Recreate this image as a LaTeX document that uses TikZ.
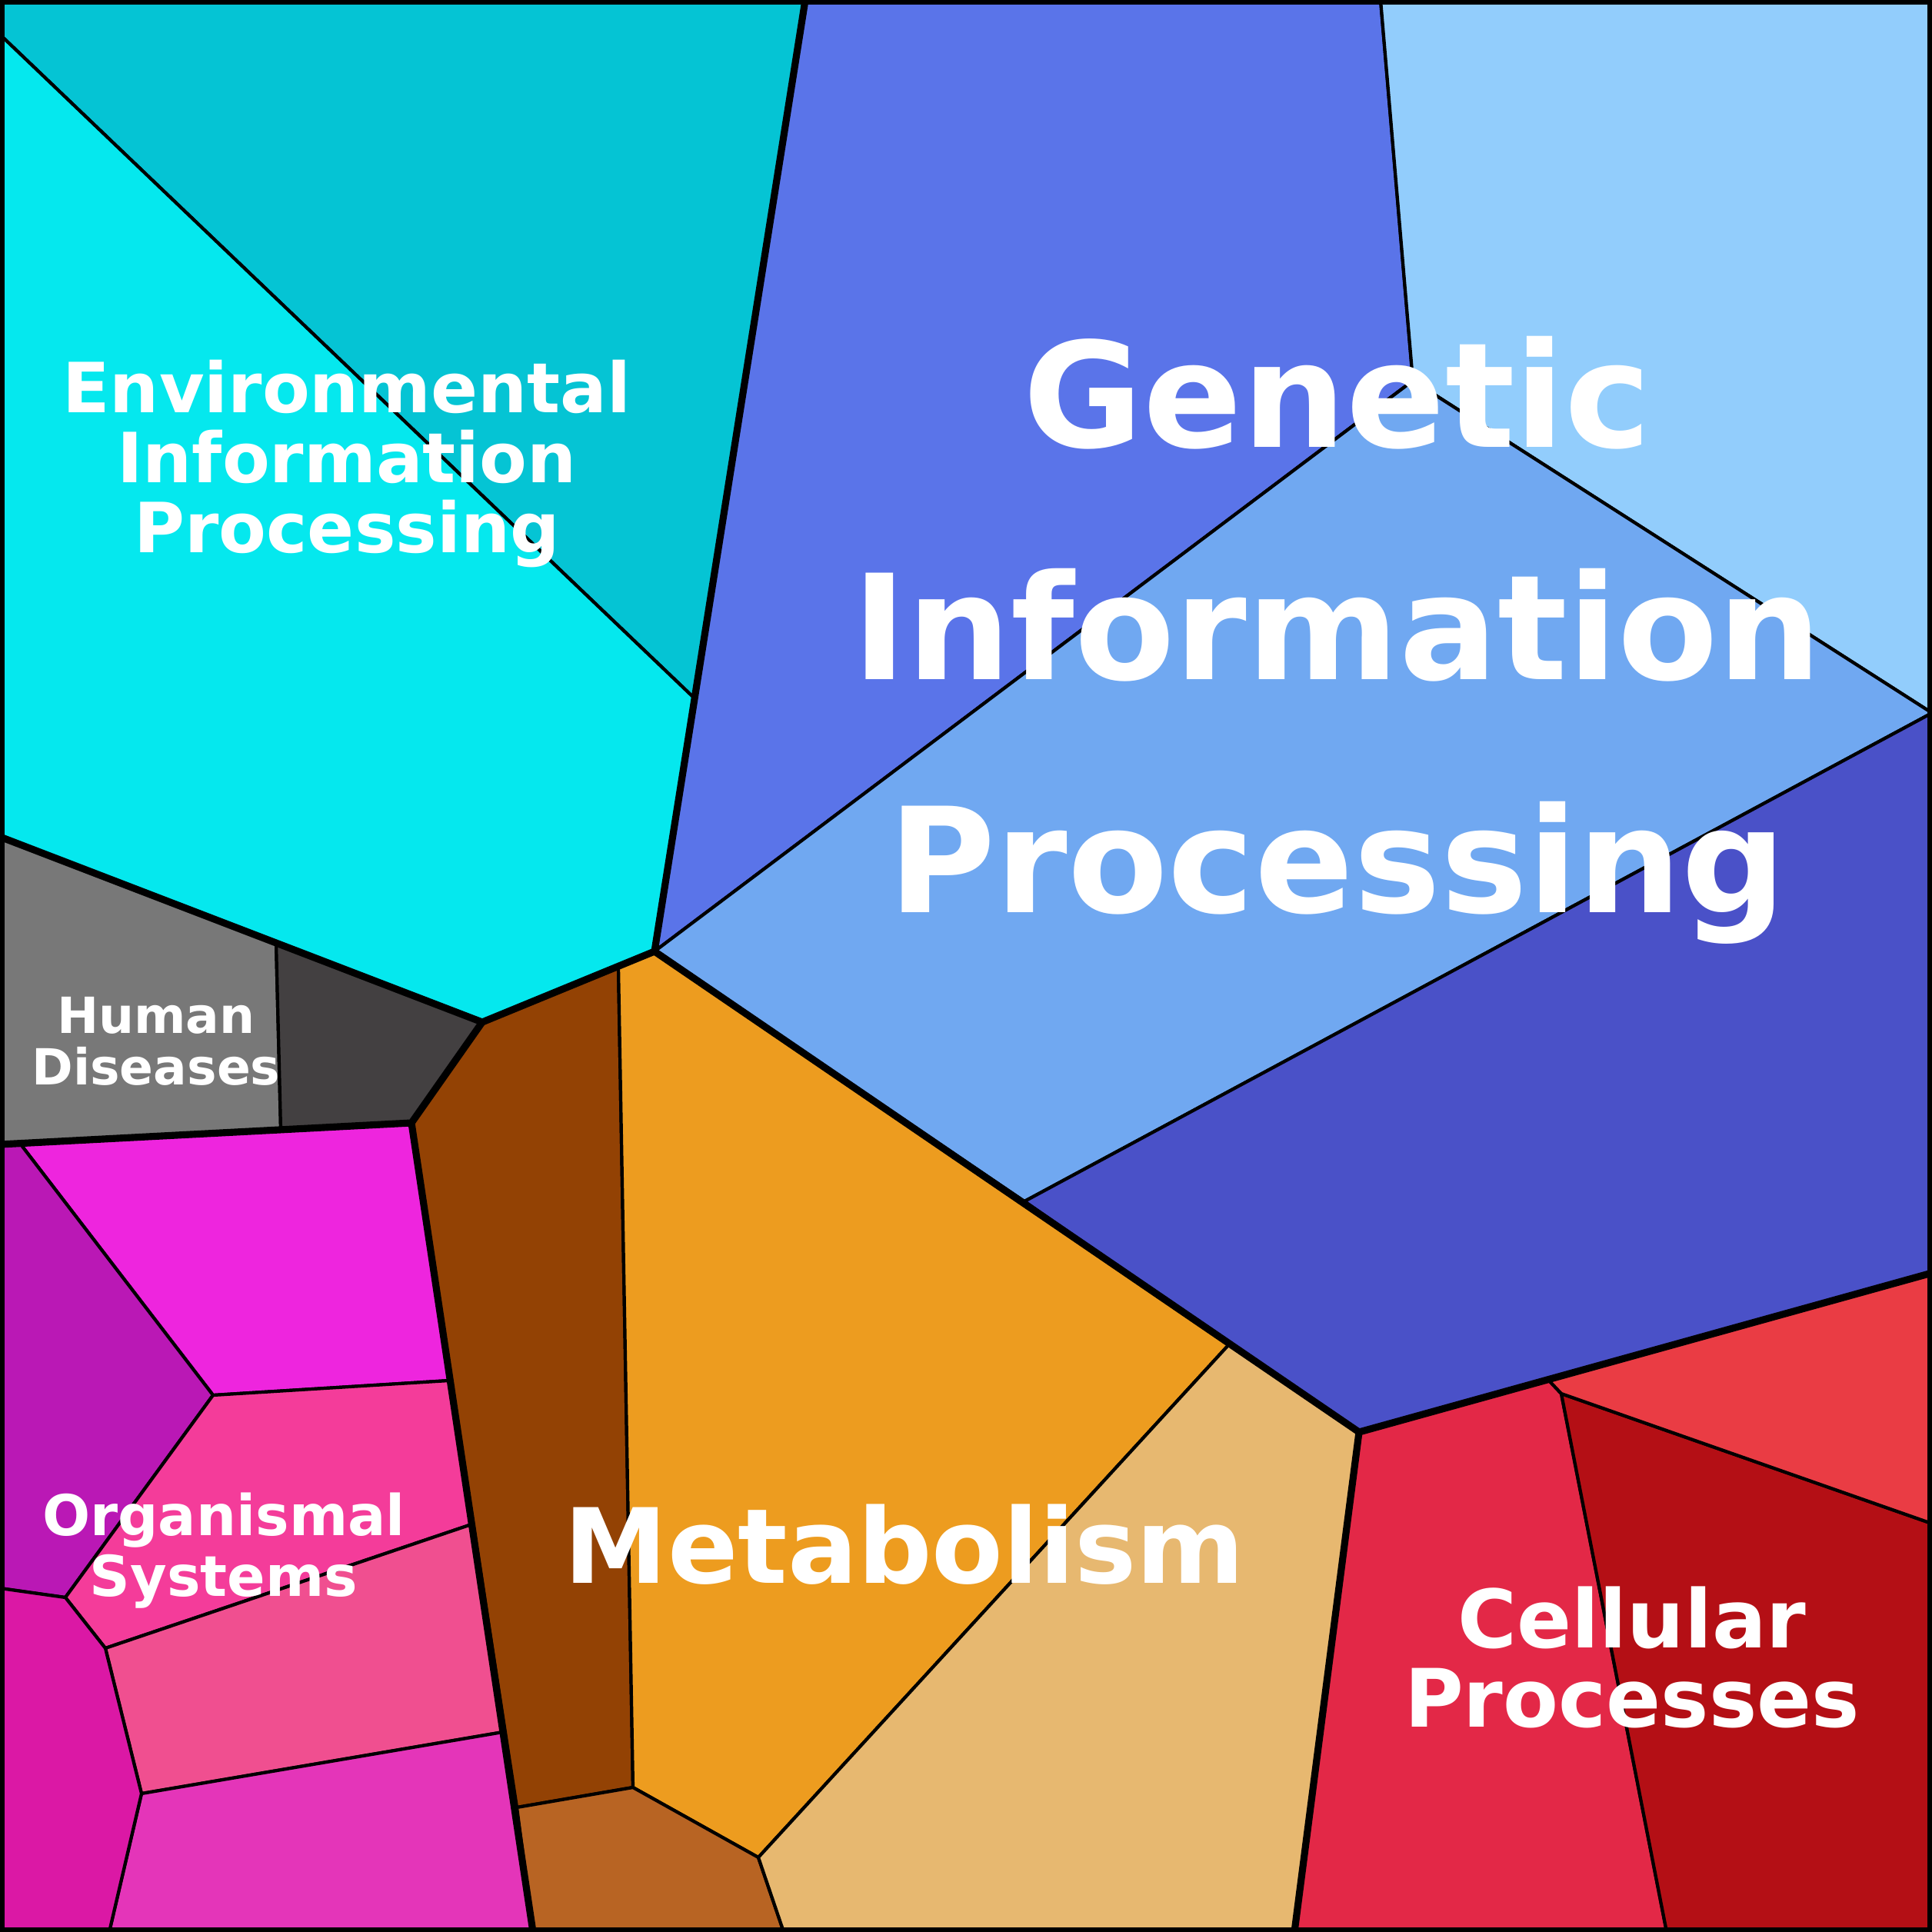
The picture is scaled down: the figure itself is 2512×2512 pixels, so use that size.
\documentclass[tikz,border=0pt]{standalone}
\usepackage{fontspec}
\setmainfont{DejaVu Sans}
\begin{document}
\begin{tikzpicture}[x=0.01cm,y=-0.01cm,
  cell/.style={draw=black,line width=1.2pt,line join=round},
  cat/.style={draw=black,line width=2.6pt,line join=round},
  lab/.style={text=white,font=\bfseries,align=center,inner sep=0pt}]
\useasboundingbox (0,0) rectangle (2512,2512);
\definecolor{c1}{HTML}{05C4D4}\definecolor{c2}{HTML}{05E8EE}
\definecolor{c3}{HTML}{787878}\definecolor{c4}{HTML}{434041}
\definecolor{c5}{HTML}{EE25DE}\definecolor{c6}{HTML}{BA18B5}
\definecolor{c7}{HTML}{F43C9A}\definecolor{c8}{HTML}{F04F90}
\definecolor{c9}{HTML}{E435B9}\definecolor{c10}{HTML}{DB18A5}
\definecolor{c11}{HTML}{934204}\definecolor{c12}{HTML}{ED9C1F}
\definecolor{c13}{HTML}{B86423}\definecolor{c14}{HTML}{E7B870}
\definecolor{c15}{HTML}{5A74E9}\definecolor{c16}{HTML}{92CDFC}
\definecolor{c17}{HTML}{70A8F1}\definecolor{c18}{HTML}{4A51C8}
\definecolor{c19}{HTML}{E32847}\definecolor{c20}{HTML}{B40F15}
\definecolor{c21}{HTML}{EA3C44}
% Environmental
\filldraw[cell,fill=c1] (0,0)--(1047,0)--(903,908)--(0,45)--cycle;
\filldraw[cell,fill=c2] (0,45)--(903,908)--(851,1237)--(627,1329)--(0,1088)--cycle;
% Human diseases
\filldraw[cell,fill=c3] (0,1088)--(359,1225)--(365,1467)--(0,1488)--cycle;
\filldraw[cell,fill=c4] (359,1225)--(627,1329)--(535,1460)--(365,1467)--cycle;
% Organismal
\filldraw[cell,fill=c5] (27,1488)--(535,1460)--(584,1795)--(277,1814)--cycle;
\filldraw[cell,fill=c6] (0,1488)--(27,1488)--(277,1814)--(85,2077)--(0,2065)--cycle;
\filldraw[cell,fill=c7] (277,1814)--(584,1795)--(613,1982)--(137,2143)--(85,2077)--cycle;
\filldraw[cell,fill=c8] (137,2143)--(613,1982)--(654,2252)--(184,2332)--cycle;
\filldraw[cell,fill=c9] (184,2332)--(654,2252)--(693,2512)--(142,2512)--cycle;
\filldraw[cell,fill=c10] (0,2065)--(85,2077)--(137,2143)--(184,2332)--(142,2512)--(0,2512)--cycle;
% Metabolism
\filldraw[cell,fill=c11] (627,1329)--(804,1257)--(823,2324)--(672,2350)--(535,1460)--cycle;
\filldraw[cell,fill=c12] (804,1257)--(851,1237)--(1598,1748)--(986,2415)--(823,2324)--cycle;
\filldraw[cell,fill=c13] (672,2350)--(823,2324)--(986,2415)--(1019,2512)--(693,2512)--cycle;
\filldraw[cell,fill=c14] (1598,1748)--(1767,1862)--(1683,2512)--(1019,2512)--(986,2415)--cycle;
% Genetic
\filldraw[cell,fill=c15] (1047,0)--(1795,0)--(1837,495)--(851,1237)--cycle;
\filldraw[cell,fill=c16] (1795,0)--(2512,0)--(2512,927)--(1837,495)--cycle;
\filldraw[cell,fill=c17] (851,1237)--(1837,495)--(2512,927)--(1332,1562)--cycle;
\filldraw[cell,fill=c18] (1332,1562)--(2512,927)--(2512,1655)--(1767,1862)--(1598,1748)--cycle;
% Cellular
\filldraw[cell,fill=c19] (1767,1862)--(2013,1794)--(2030,1812)--(2167,2512)--(1683,2512)--cycle;
\filldraw[cell,fill=c20] (2030,1812)--(2512,1981)--(2512,2512)--(2167,2512)--cycle;
\filldraw[cell,fill=c21] (2013,1794)--(2512,1655)--(2512,1981)--(2030,1812)--cycle;
% category borders
\draw[cat] (1047,0)--(851,1237)--(627,1329)--(0,1088);
\draw[cat] (627,1329)--(535,1460)--(0,1488);
\draw[cat] (535,1460)--(693,2512);
\draw[cat] (851,1237)--(1767,1862)--(2512,1655);
\draw[cat] (1767,1862)--(1683,2512);
\draw[draw=black,line width=3.5pt] (0,0) rectangle (2512,2512);
% labels
\node[lab,font=\bfseries\fontsize{25.6}{26}\selectfont] (env) at (451,603) {Environmental\\Information\\Processing};
\node[lab,font=\bfseries\fontsize{54}{86}\selectfont] (gen) at (1739,832) {Genetic\\Information\\Processing};
\node[lab,font=\bfseries\fontsize{18.4}{19}\selectfont] (hum) at (203,1354) {Human\\Diseases};
\node[lab,font=\bfseries\fontsize{20.8}{22.7}\selectfont] (org) at (291,2016) {Organismal\\Systems};
\node[lab,font=\bfseries\fontsize{38.4}{38}\selectfont] (met) at (1176,2008) {Metabolism};
\node[lab,font=\bfseries\fontsize{29.8}{29.1}\selectfont] (cel) at (2122,2155) {Cellular\\Processes};
\end{tikzpicture}
\end{document}
